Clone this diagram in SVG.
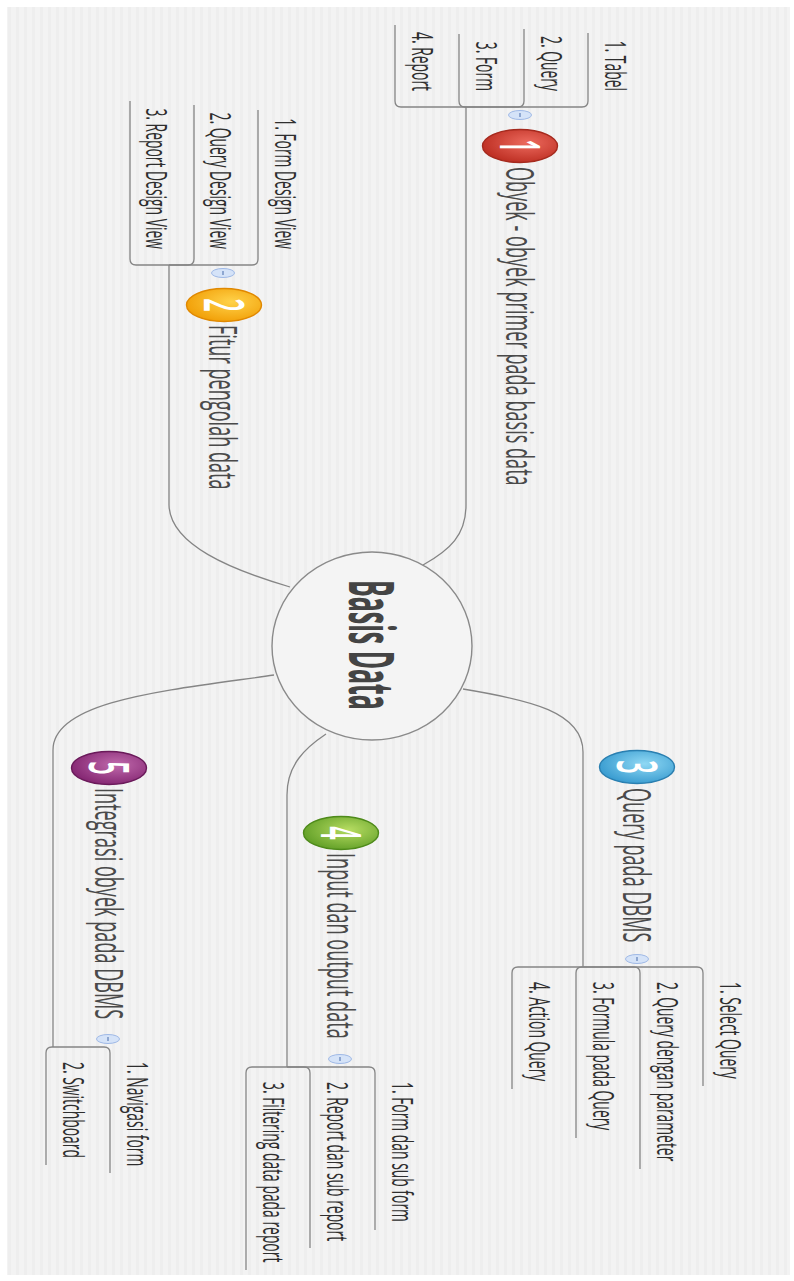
<svg xmlns="http://www.w3.org/2000/svg" width="794" height="1281" viewBox="0 0 794 1281">
<defs>
<pattern id="stripes" width="8" height="8" patternUnits="userSpaceOnUse">
<rect width="8" height="8" fill="#f3f3f3"/>
<rect width="3" height="8" fill="#eeeeee"/>
</pattern>
<radialGradient id="g1" cx="0.6" cy="0.4" r="0.7"><stop offset="0" stop-color="#ec6a5e"/><stop offset="1" stop-color="#b8281c"/></radialGradient>
<radialGradient id="g2" cx="0.6" cy="0.4" r="0.7"><stop offset="0" stop-color="#ffd24a"/><stop offset="1" stop-color="#f09a00"/></radialGradient>
<radialGradient id="g3" cx="0.6" cy="0.4" r="0.7"><stop offset="0" stop-color="#8fd8f4"/><stop offset="1" stop-color="#2f95cc"/></radialGradient>
<radialGradient id="g4" cx="0.6" cy="0.4" r="0.7"><stop offset="0" stop-color="#b6dc62"/><stop offset="1" stop-color="#5a9a22"/></radialGradient>
<radialGradient id="g5" cx="0.6" cy="0.4" r="0.7"><stop offset="0" stop-color="#c06aac"/><stop offset="1" stop-color="#7e1f6c"/></radialGradient>
</defs>
<style>
.ln{fill:none;stroke:#858585;stroke-width:1.3}
.sub{font-family:"Open Sans","Noto Sans",sans-serif;font-size:29px;fill:#2e2e2e}
.br{font-family:"Open Sans","Noto Sans",sans-serif;font-size:39px;fill:#4a4a4a}
.ctr{font-family:"Open Sans","Noto Sans",sans-serif;font-size:63px;font-weight:bold;fill:#444444}
.num{font-family:"Open Sans","Noto Sans",sans-serif;font-size:56px;font-weight:600;fill:#ffffff;text-anchor:middle}
.badge{stroke-width:1.4}
.ind{fill:#d5e3f8;stroke:#9fb9e6;stroke-width:1}
.tick{stroke:#5f7fb8;stroke-width:1.2}
.end{text-anchor:end}
</style>
<rect width="794" height="1281" fill="#ffffff"/>
<rect x="7" y="7" width="783" height="1268" fill="url(#stripes)"/>

<g id="connectors">
<path class="ln" d="M423,565 C450,550 466,535 466,505"/>
<path class="ln" d="M290,587 C232,570 170,545 169,505"/>
<path class="ln" d="M463,689 C530,700 583,712 583,752"/>
<path class="ln" d="M326,734 C305,748 287,765 287,795"/>
<path class="ln" d="M274,675 C170,690 53,700 53,750"/>
<path class="ln" d="M466,107 H582 Q588,107 588,101"/>
<path class="ln" d="M466,107 H518 Q524,107 524,101"/>
<path class="ln" d="M466,107 H465 Q459,107 459,101"/>
<path class="ln" d="M466,107 H401 Q395,107 395,101"/>
<path class="ln" d="M169,265 H252 Q258,265 258,259"/>
<path class="ln" d="M169,265 H188 Q194,265 194,259"/>
<path class="ln" d="M169,265 H136 Q130,265 130,259"/>
<path class="ln" d="M583,967 H697 Q703,967 703,973"/>
<path class="ln" d="M583,967 H634 Q640,967 640,973"/>
<path class="ln" d="M583,967 H582 Q576,967 576,973"/>
<path class="ln" d="M583,967 H518 Q512,967 512,973"/>
<path class="ln" d="M287,1067 H369 Q375,1067 375,1073"/>
<path class="ln" d="M287,1067 H304 Q310,1067 310,1073"/>
<path class="ln" d="M287,1067 H252 Q246,1067 246,1073"/>
<path class="ln" d="M53,1047 H104 Q110,1047 110,1053"/>
<path class="ln" d="M53,1047 H52 Q46,1047 46,1053"/>
</g>

<g id="central">
<ellipse cx="372" cy="646" rx="100" ry="94" fill="#f4f4f4" stroke="#8a8a8a" stroke-width="1.4"/>
<text class="ctr" text-anchor="middle" transform="matrix(0 0.395 -1 0 349 645)">Basis Data</text>
</g>

<g id="branch1">
<path class="ln" d="M466,505 V107"/>
<ellipse class="badge" cx="520" cy="146" rx="37.5" ry="16.5" fill="url(#g1)" stroke="#a52a1e"/>
<text class="num" transform="matrix(0 0.42 -1 0 500 146)">1</text>
<text class="br" transform="matrix(0 0.464 -1 0 506 167)">Obyek - obyek primer pada basis data</text>
<ellipse class="ind" cx="520" cy="115" rx="11.5" ry="4.5"/>
<line class="tick" x1="520" y1="113" x2="520" y2="117"/>
</g>
<g id="b1s1"><path class="ln" d="M588,101 V33"/><text class="sub end" transform="matrix(0 0.479 -1 0 605 91)">1. Tabel</text></g>
<g id="b1s2"><path class="ln" d="M524,101 V29"/><text class="sub end" transform="matrix(0 0.479 -1 0 541 91)">2. Query</text></g>
<g id="b1s3"><path class="ln" d="M459,101 V34"/><text class="sub end" transform="matrix(0 0.479 -1 0 476 91)">3. Form</text></g>
<g id="b1s4"><path class="ln" d="M395,101 V25"/><text class="sub end" transform="matrix(0 0.479 -1 0 412 91)">4. Report</text></g>

<g id="branch2">
<path class="ln" d="M169,505 V265"/>
<ellipse class="badge" cx="224" cy="305" rx="37.5" ry="16.5" fill="url(#g2)" stroke="#e08800"/>
<text class="num" transform="matrix(0 0.42 -1 0 204 305)">2</text>
<text class="br" transform="matrix(0 0.464 -1 0 209 325)">Fitur pengolah data</text>
<ellipse class="ind" cx="223" cy="273" rx="11.5" ry="4.5"/>
<line class="tick" x1="223" y1="271" x2="223" y2="275"/>
</g>
<g id="b2s1"><path class="ln" d="M258,259 V110"/><text class="sub end" transform="matrix(0 0.479 -1 0 275 249)">1. Form Design View</text></g>
<g id="b2s2"><path class="ln" d="M194,259 V105"/><text class="sub end" transform="matrix(0 0.479 -1 0 210 249)">2. Query Design View</text></g>
<g id="b2s3"><path class="ln" d="M130,259 V101"/><text class="sub end" transform="matrix(0 0.479 -1 0 146 249)">3. Report Design View</text></g>

<g id="branch3">
<path class="ln" d="M583,752 V967"/>
<ellipse class="badge" cx="637" cy="767" rx="37.5" ry="16.5" fill="url(#g3)" stroke="#2a7fb0"/>
<text class="num" transform="matrix(0 0.42 -1 0 617 767)">3</text>
<text class="br" transform="matrix(0 0.464 -1 0 623 788)">Query pada DBMS</text>
<ellipse class="ind" cx="637" cy="959" rx="11.5" ry="4.5"/>
<line class="tick" x1="637" y1="957" x2="637" y2="961"/>
</g>
<g id="b3s1"><path class="ln" d="M703,973 V1086"/><text class="sub" transform="matrix(0 0.479 -1 0 720 982)">1. Select Query</text></g>
<g id="b3s2"><path class="ln" d="M640,973 V1169"/><text class="sub" transform="matrix(0 0.479 -1 0 657 982)">2. Query dengan parameter</text></g>
<g id="b3s3"><path class="ln" d="M576,973 V1138"/><text class="sub" transform="matrix(0 0.479 -1 0 593 982)">3. Formula pada Query</text></g>
<g id="b3s4"><path class="ln" d="M512,973 V1089"/><text class="sub" transform="matrix(0 0.479 -1 0 529 982)">4. Action Query</text></g>

<g id="branch4">
<path class="ln" d="M287,795 V1067"/>
<ellipse class="badge" cx="341" cy="833" rx="37.5" ry="16.5" fill="url(#g4)" stroke="#4e8a1a"/>
<text class="num" transform="matrix(0 0.42 -1 0 321 833)">4</text>
<text class="br" transform="matrix(0 0.464 -1 0 327 853)">Input dan output data</text>
<ellipse class="ind" cx="340" cy="1059" rx="11.5" ry="4.5"/>
<line class="tick" x1="340" y1="1057" x2="340" y2="1061"/>
</g>
<g id="b4s1"><path class="ln" d="M375,1073 V1230"/><text class="sub" transform="matrix(0 0.479 -1 0 392 1082)">1. Form dan sub form</text></g>
<g id="b4s2"><path class="ln" d="M310,1073 V1248"/><text class="sub" transform="matrix(0 0.479 -1 0 327 1082)">2. Report dan sub report</text></g>
<g id="b4s3"><path class="ln" d="M246,1073 V1270"/><text class="sub" transform="matrix(0 0.479 -1 0 263 1082)">3. Filtering data pada report</text></g>

<g id="branch5">
<path class="ln" d="M53,750 V1047"/>
<ellipse class="badge" cx="109" cy="768" rx="37.5" ry="16.5" fill="url(#g5)" stroke="#6a1a5a"/>
<text class="num" transform="matrix(0 0.42 -1 0 89 768)">5</text>
<text class="br" transform="matrix(0 0.464 -1 0 95 788)">Integrasi obyek pada DBMS</text>
<ellipse class="ind" cx="108" cy="1039" rx="11.5" ry="4.5"/>
<line class="tick" x1="108" y1="1037" x2="108" y2="1041"/>
</g>
<g id="b5s1"><path class="ln" d="M110,1053 V1173"/><text class="sub" transform="matrix(0 0.479 -1 0 127 1062)">1. Navigasi form</text></g>
<g id="b5s2"><path class="ln" d="M46,1053 V1165"/><text class="sub" transform="matrix(0 0.479 -1 0 63 1062)">2. Switchboard</text></g>
</svg>
